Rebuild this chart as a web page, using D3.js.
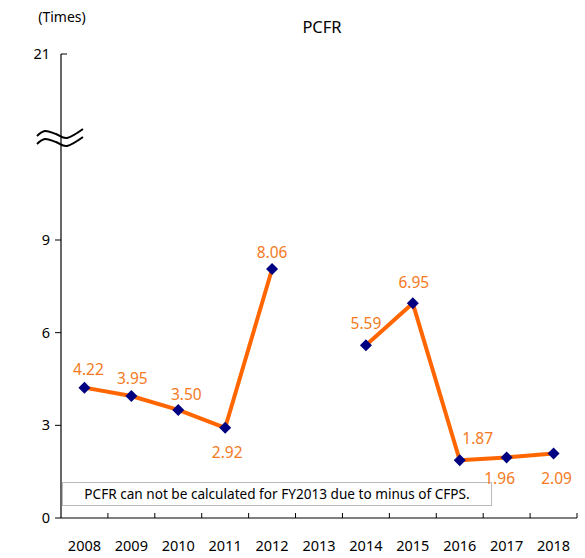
<!DOCTYPE html>
<html>
<head>
<meta charset="utf-8">
<script src="https://cdn.jsdelivr.net/npm/d3@7"></script>
<style>
  body { margin: 0; background: #fff; }
  text { font-family: "Noto Sans", sans-serif; }
</style>
</head>
<body>
<div id="chart"></div>
<script>
const years = ['2008','2009','2010','2011','2012','2013','2014','2015','2016','2017','2018']
const pcfr = [4.22, 3.95, 3.50, 2.92, 8.06, null, 5.59, 6.95, 1.87, 1.96, 2.09]
const yTicks = [0, 3, 6, 9, 21]
// label placement relative to the marker (dx, dy)
const labelPos = [[4,-18],[1,-17],[8,-15],[2,25],[0,-16],null,[0,-21],[1,-20],[18,-21],[-7,22],[3,26]]
const note = 'PCFR can not be calculated for FY2013 due to minus of CFPS.'

const width = 585, height = 558
const svg = d3.select('#chart').append('svg').attr('width', width).attr('height', height)

const x = d3.scaleBand().domain(years).range([61, 577])
const y = d3.scaleLinear().domain([0, 9, 21]).range([518, 240, 54])
const cx = d => x(d) + x.bandwidth() / 2

// title and unit
svg.append('text').attr('x', 322).attr('y', 33).attr('text-anchor', 'middle')
  .style('font-size', '16.5px').text('PCFR')
svg.append('text').attr('x', 62).attr('y', 22).attr('text-anchor', 'middle')
  .style('font-size', '14px').text('(Times)')

// y axis
const ya = svg.append('g')
ya.append('line').attr('x1', 61).attr('x2', 61).attr('y1', y(21)).attr('y2', y(0))
  .attr('stroke', '#000').attr('stroke-width', 1.2)
ya.selectAll('line.tick').data(yTicks).enter().append('line').attr('class', 'tick')
  .attr('x1', d => d === 21 ? 61 : 55).attr('x2', d => d === 21 ? 67 : 61)
  .attr('y1', d => y(d)).attr('y2', d => y(d)).attr('stroke', '#000')
ya.selectAll('text').data(yTicks).enter().append('text')
  .attr('x', 50).attr('y', d => y(d) + 5).attr('text-anchor', 'end')
  .style('font-size', '14.5px').text(d => d)

// axis break (two wavy strokes across the y axis)
const wave = d3.line().curve(d3.curveCardinal)
const wavePts = off => [[37, 136 + off], [45, 131 + off], [56, 134 + off], [67, 138 + off], [83, 129 + off]]
;[0, 8].forEach(off => {
  svg.append('path').attr('d', wave(wavePts(off)))
    .attr('fill', 'none').attr('stroke', '#000').attr('stroke-width', 2)
})

// x axis
const xa = svg.append('g')
xa.append('line').attr('x1', 61).attr('x2', 577).attr('y1', y(0)).attr('y2', y(0))
  .attr('stroke', '#000').attr('stroke-width', 1.2)
xa.selectAll('line.tick').data(years.slice(1).concat(['end'])).enter().append('line').attr('class', 'tick')
  .attr('x1', d => d === 'end' ? 577 : x(d)).attr('x2', d => d === 'end' ? 577 : x(d))
  .attr('y1', y(0) - 5).attr('y2', y(0)).attr('stroke', '#000')
xa.selectAll('text').data(years).enter().append('text')
  .attr('x', d => cx(d)).attr('y', 551).attr('text-anchor', 'middle')
  .style('font-size', '14.5px').text(d => d)

// note box
svg.append('rect').attr('x', 62.5).attr('y', 482.5).attr('width', 429).attr('height', 23)
  .attr('fill', '#fff').attr('stroke', '#777').attr('stroke-dasharray', '1,1')
svg.append('text').attr('x', 277).attr('y', 499).attr('text-anchor', 'middle')
  .style('font-size', '13.6px').text(note)

// line and markers
const pts = years.map((d, i) => ({ year: d, v: pcfr[i], i: i }))
const line = d3.line().defined(d => d.v !== null).x(d => cx(d.year)).y(d => y(d.v))
svg.append('path').datum(pts).attr('d', line)
  .attr('fill', 'none').attr('stroke', '#FF6600').attr('stroke-width', 4).attr('stroke-linejoin', 'round')

const valid = pts.filter(d => d.v !== null)
svg.append('g').selectAll('path').data(valid).enter().append('path')
  .attr('d', 'M0,-6L6,0L0,6L-6,0Z')
  .attr('transform', d => 'translate(' + cx(d.year) + ',' + y(d.v) + ')')
  .attr('fill', '#000080')

svg.append('g').selectAll('text').data(valid).enter().append('text')
  .attr('x', d => cx(d.year) + labelPos[d.i][0])
  .attr('y', d => y(d.v) + labelPos[d.i][1] + 5)
  .attr('text-anchor', 'middle').attr('fill', '#F47A22')
  .style('font-size', '15.5px').text(d => d.v.toFixed(2))
</script>
</body>
</html>
